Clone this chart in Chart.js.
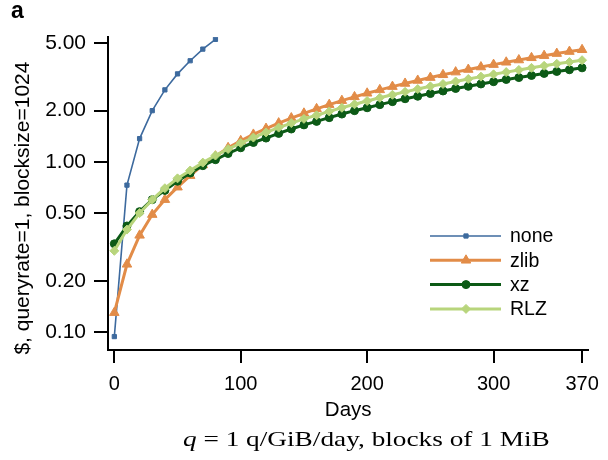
<!DOCTYPE html>
<html>
<head>
<meta charset="utf-8">
<script src="https://cdn.jsdelivr.net/npm/chart.js@4/dist/chart.umd.min.js"></script>
<style>
  html, body { margin: 0; padding: 0; background: #fff; }
  #wrap { position: relative; width: 608px; height: 460px; }
  #chart { position: absolute; left: 0; top: 0; }
  #panel { position: absolute; left: 11px; top: -3px; font: bold 23px "Liberation Sans", Arial, sans-serif; color: #000; }
  #caption { position: absolute; left: 183px; top: 426px; font: 22px "Liberation Serif", "Times New Roman", serif; color: #000; white-space: nowrap; transform: scaleX(1.24); transform-origin: left center; }
</style>
</head>
<body>
<div id="wrap">
  <canvas id="chart" width="608" height="460"></canvas>
  <div id="panel">a</div>
  <div id="caption"><i>q</i> = 1 q/GiB/day, blocks of 1 MiB</div>
</div>
<script>
const days = [0, 10, 20, 30, 40, 50, 60, 70, 80, 90, 100, 110, 120, 130, 140, 150, 160, 170, 180, 190,
              200, 210, 220, 230, 240, 250, 260, 270, 280, 290, 300, 310, 320, 330, 340, 350, 360, 370];
const noneCost = [0.094, 0.73, 1.37, 2.00, 2.65, 3.29, 3.93, 4.60, 5.25];
const zlibCost = [0.13, 0.25, 0.37, 0.49, 0.60, 0.71, 0.83, 0.96, 1.08, 1.21, 1.33, 1.45, 1.57, 1.69, 1.81, 1.93, 2.05, 2.17, 2.29, 2.41,
                  2.53, 2.65, 2.77, 2.89, 3.01, 3.13, 3.25, 3.37, 3.49, 3.61, 3.73, 3.85, 3.97, 4.09, 4.21, 4.33, 4.45, 4.56];
const xzCost = [0.33, 0.42, 0.51, 0.60, 0.68, 0.77, 0.86, 0.95, 1.03, 1.12, 1.21, 1.30, 1.38, 1.47, 1.56, 1.65, 1.73, 1.82, 1.91, 2.00,
                2.08, 2.17, 2.26, 2.35, 2.43, 2.52, 2.61, 2.70, 2.78, 2.87, 2.96, 3.05, 3.13, 3.22, 3.31, 3.40, 3.48, 3.57];
const rlzCost = [0.30, 0.40, 0.50, 0.60, 0.70, 0.80, 0.89, 0.99, 1.09, 1.19, 1.29, 1.39, 1.49, 1.59, 1.69, 1.79, 1.88, 1.98, 2.08, 2.18,
                 2.28, 2.38, 2.48, 2.58, 2.68, 2.78, 2.87, 2.97, 3.07, 3.17, 3.27, 3.37, 3.47, 3.57, 3.67, 3.77, 3.86, 3.96];
const xTicks = [0, 100, 200, 300, 370];
const yTicks = [0.1, 0.2, 0.5, 1, 2, 5];

const sans = '"Liberation Sans", Arial, sans-serif';

function pts(values) {
    return values.map((v, i) => ({ x: days[i], y: v }));
}

const series = [
    { label: 'none', data: noneCost, color: '#3d6a9e', style: 'rect', radius: 3, width: 1.6, order: 3 },
    { label: 'zlib', data: zlibCost, color: '#e28c48', style: 'triangle', radius: 5.5, width: 3, order: 2 },
    { label: 'xz', data: xzCost, color: '#0c5a16', style: 'circle', radius: 4, width: 3, order: 1 },
    { label: 'RLZ', data: rlzCost, color: '#b8d57c', style: 'rectRot', radius: 4.5, width: 3, order: 0 }
];

// legend drawn inside the plot like the original: line with marker in the middle
const lineLegend = {
    id: 'lineLegend',
    afterDraw(chart) {
        const ctx = chart.ctx;
        ctx.save();
        series.forEach((s, i) => {
            const y = 236 + i * 24.3;
            ctx.strokeStyle = s.color;
            ctx.fillStyle = s.color;
            ctx.lineWidth = s.width;
            ctx.beginPath();
            ctx.moveTo(430, y);
            ctx.lineTo(501, y);
            ctx.stroke();
            ctx.lineWidth = 1;
            Chart.helpers.drawPoint(ctx, { pointStyle: s.style, radius: s.radius, rotation: 0, borderWidth: 1 }, 466, y);
            ctx.fillStyle = '#000';
            ctx.font = '19.5px ' + sans;
            ctx.textBaseline = 'middle';
            ctx.fillText(s.label, 510, y + 1);
        });
        ctx.restore();
    }
};

new Chart(document.getElementById('chart'), {
    type: 'line',
    data: {
        datasets: series.map(s => ({
            label: s.label,
            data: pts(s.data),
            borderColor: s.color,
            backgroundColor: s.color,
            borderWidth: s.width,
            pointStyle: s.style,
            pointRadius: s.radius,
            pointBorderWidth: 1,
            tension: 0,
            order: s.order
        }))
    },
    options: {
        responsive: false,
        animation: false,
        layout: { padding: { top: 37, right: 19, left: 0, bottom: 0 } },
        plugins: { legend: { display: false }, tooltip: { enabled: false } },
        scales: {
            x: {
                type: 'linear',
                min: -5,
                max: 375,
                afterBuildTicks: scale => { scale.ticks = xTicks.map(v => ({ value: v })); },
                afterFit: scale => { scale.height = 110; },
                border: { display: true, color: '#000', width: 2 },
                grid: { drawOnChartArea: false, drawTicks: true, tickLength: 13, color: '#000', lineWidth: 2 },
                ticks: { color: '#000', font: { family: sans, size: 20 }, padding: 9, maxRotation: 0, autoSkip: false },
                title: { display: true, text: 'Days', color: '#000', font: { family: sans, size: 20.5 }, padding: { top: 0, bottom: 37 } }
            },
            y: {
                type: 'logarithmic',
                min: 0.0784,
                max: 5.42,
                afterBuildTicks: scale => { scale.ticks = yTicks.map(v => ({ value: v })); },
                afterFit: scale => { scale.width = 108; },
                border: { display: true, color: '#000', width: 2 },
                grid: { drawOnChartArea: false, drawTicks: true, tickLength: 14, color: '#000', lineWidth: 2 },
                ticks: { color: '#000', font: { family: sans, size: 21 }, padding: 8, autoSkip: false, callback: v => Number(v).toFixed(2) },
                // trailing spaces push the centred label down a little, as in the original
                title: { display: true, text: '$, queryrate=1, blocksize=1024     ', color: '#000', font: { family: sans, size: 21 }, padding: { top: 11, bottom: 0 } }
            }
        }
    },
    plugins: [lineLegend]
});
</script>
</body>
</html>
